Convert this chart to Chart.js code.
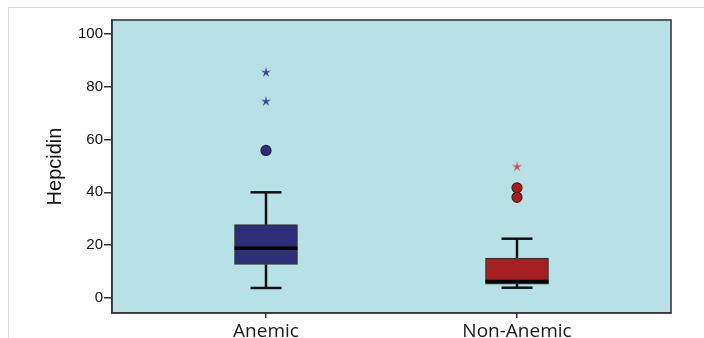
<!DOCTYPE html>
<html>
<head>
<meta charset="utf-8">
<script src="https://cdn.jsdelivr.net/npm/chart.js@4/dist/chart.umd.min.js"></script>
<style>
  body { margin: 0; background: #fff; }
  #frame { position: absolute; left: 8px; top: 7px; right: 0; bottom: 0; border-top: 1px solid #dcdcdc; border-left: 1px solid #dcdcdc; }
  #wrap { position: absolute; left: 0; top: 0; width: 704px; height: 338px; }
</style>
</head>
<body>
<div id="frame"></div>
<div id="wrap"><canvas id="myChart" width="704" height="338"></canvas></div>
<script>
// box plot numbers
const groups = ['Anemic', 'Non-Anemic'];
const group_pos = [1, 2];
const q1 = [12.6, 5.1];
const q3 = [27.8, 15.0];
const medians = [18.8, 6.2];
const whisker_low = [3.7, 3.8];
const whisker_high = [40.0, 22.4];
const circle_outliers = [[55.9], [41.7, 38.1]];
const star_outliers = [[85.6, 74.6], [49.8]];
const y_ticks = [0, 20, 40, 60, 80, 100];

const box_colors = ['#2c2e78', '#a51e22'];
const circle_borders = ['#1c1d4a', '#5c1012'];
const star_colors = ['#3b3e98', '#cc474d'];

// little 5 armed star used as point style
function make_star(color){
    const c = document.createElement('canvas');
    c.width = 12; c.height = 12;
    const g = c.getContext('2d');
    g.fillStyle = color;
    g.beginPath();
    for(let i=0;i<10;i++){
        const r = i%2==0 ? 5.5 : 1.6;
        const a = -Math.PI/2 + i*Math.PI/5;
        const px = 6 + r*Math.cos(a), py = 6.3 + r*Math.sin(a);
        if(i==0) g.moveTo(px,py); else g.lineTo(px,py);
    }
    g.closePath();
    g.fill();
    return c;
}

const box_data = group_pos.map((x,i)=>({x:x, y:[q1[i], q3[i]]}));
const whisker_data = [];
group_pos.forEach((x,i)=>{
    whisker_data.push({x:x, y:[whisker_low[i], q1[i]]});
    whisker_data.push({x:x, y:[q3[i], whisker_high[i]]});
});
const median_data = group_pos.map((x,i)=>({x:x, y:medians[i]}));
const cap_data = [];
group_pos.forEach((x,i)=>{
    cap_data.push({x:x, y:whisker_low[i]});
    cap_data.push({x:x, y:whisker_high[i]});
});

const outlier_sets = [];
group_pos.forEach((x,i)=>{
    outlier_sets.push({
        type: 'line', showLine: false,
        data: circle_outliers[i].map(v=>({x:x, y:v})),
        pointStyle: 'circle', pointRadius: 5,
        pointBackgroundColor: box_colors[i], pointBorderColor: circle_borders[i], pointBorderWidth: 1.2
    });
    outlier_sets.push({
        type: 'line', showLine: false,
        data: star_outliers[i].map(v=>({x:x, y:v})),
        pointStyle: make_star(star_colors[i])
    });
});

const plot_bg = {
    id: 'plot_bg',
    beforeDraw(chart){
        const {ctx, chartArea:a} = chart;
        ctx.save();
        ctx.fillStyle = '#b8e1e5';
        ctx.fillRect(a.left, a.top, a.right-a.left, a.bottom-a.top);
        ctx.restore();
    },
    afterDraw(chart){
        const {ctx, chartArea:a} = chart;
        ctx.save();
        ctx.strokeStyle = '#3a3a3a';
        ctx.lineWidth = 1.6;
        ctx.strokeRect(a.left, a.top, a.right-a.left, a.bottom-a.top);
        ctx.restore();
    }
};

const ctx = document.getElementById('myChart').getContext('2d');
const myChart = new Chart(ctx, {
    type: 'bar',
    data: {
        datasets: [
            {
                type: 'line', showLine: false, data: median_data,
                pointStyle: 'line', pointRadius: 31.5, pointBorderWidth: 3.5, pointBorderColor: '#000'
            },
            {
                type: 'line', showLine: false, data: cap_data,
                pointStyle: 'line', pointRadius: 15.5, pointBorderWidth: 2.5, pointBorderColor: '#111'
            },
            ...outlier_sets,
            {
                data: box_data, backgroundColor: box_colors,
                borderColor: '#333', borderWidth: 1.2, borderSkipped: false,
                barThickness: 63, grouped: false
            },
            {
                data: whisker_data, backgroundColor: '#111',
                borderWidth: 0, barThickness: 1.8, grouped: false
            }
        ]
    },
    options: {
        responsive: false,
        animation: false,
        events: [],
        layout: { autoPadding: false, padding: { top: 20, right: 33, left: 0, bottom: 0 } },
        plugins: { legend: { display: false }, tooltip: { enabled: false } },
        scales: {
            x: {
                type: 'linear',
                offset: false,
                min: 0.3865, max: 2.6135,
                afterBuildTicks: axis => { axis.ticks = group_pos.map(v=>({value:v})); },
                afterFit: scale => { scale.height = 25; },
                ticks: {
                    callback: v => groups[group_pos.indexOf(v)],
                    color: '#1a1a1a', padding: 2,
                    font: { family: 'Open Sans', size: 19 }
                },
                grid: { offset: false, drawOnChartArea: false, drawTicks: true, tickLength: 5, color: '#333', lineWidth: 1.5 },
                border: { color: '#333', width: 1.6 }
            },
            y: {
                min: -5.8, max: 105.4,
                afterBuildTicks: axis => { axis.ticks = y_ticks.map(v=>({value:v})); },
                afterFit: scale => { scale.width = 112; },
                ticks: {
                    color: '#111', padding: 1,
                    font: { family: 'Liberation Sans', size: 15 }
                },
                grid: { drawOnChartArea: false, drawTicks: true, tickLength: 8, color: '#333', lineWidth: 1.5 },
                border: { color: '#333', width: 1.6 },
                title: {
                    display: true, text: 'Hepcidin', color: '#111',
                    font: { family: 'Liberation Sans', size: 20 },
                    padding: { top: 43, bottom: 0 }
                }
            }
        }
    },
    plugins: [plot_bg]
});
</script>
</body>
</html>
